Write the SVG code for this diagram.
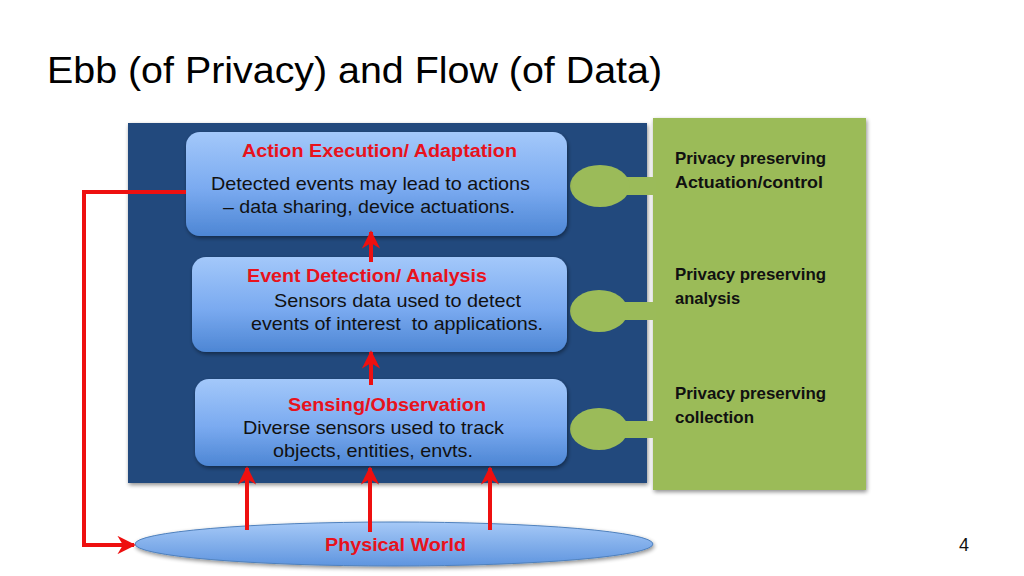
<svg xmlns="http://www.w3.org/2000/svg" width="1024" height="576" viewBox="0 0 1024 576">
<defs>
<style>
.title{font-family:"Liberation Sans",Arial,sans-serif;font-size:37px;fill:#000}
.head{font-family:"Liberation Sans",Arial,sans-serif;font-size:18px;font-weight:bold;fill:#e8121c}
.body{font-family:"Liberation Sans",Arial,sans-serif;font-size:18.5px;fill:#111}
.priv{font-family:"Liberation Sans",Arial,sans-serif;font-size:16.5px;font-weight:bold;fill:#111}
.box{fill:url(#boxg)}
.knob{fill:#9bbb59}
.arr{stroke:#ee1010;stroke-width:4;fill:none;marker-end:url(#ah)}
</style>
<linearGradient id="boxg" x1="0" y1="0" x2="0" y2="1">
<stop offset="0" stop-color="#a3c8fa"/>
<stop offset="0.55" stop-color="#7aaaf0"/>
<stop offset="1" stop-color="#4d86d4"/>
</linearGradient>
<linearGradient id="worldg" x1="0" y1="0" x2="0" y2="1">
<stop offset="0" stop-color="#a6c9f7"/>
<stop offset="1" stop-color="#5f95df"/>
</linearGradient>
<filter id="sh" x="-10%" y="-10%" width="120%" height="130%">
<feGaussianBlur in="SourceAlpha" stdDeviation="2"/>
<feOffset dx="1" dy="2" result="o"/>
<feComponentTransfer><feFuncA type="linear" slope="0.45"/></feComponentTransfer>
<feMerge><feMergeNode/><feMergeNode in="SourceGraphic"/></feMerge>
</filter>
<marker id="ah" viewBox="0 0 10 10" refX="9" refY="5" markerWidth="4.6" markerHeight="4.6" orient="auto" markerUnits="strokeWidth">
<path d="M0,0 L10,5 L0,10 L3,5 z" fill="#ee1010"/>
</marker>
</defs>
<rect width="1024" height="576" fill="#fff"/>
<text class="title" x="47" y="83" textLength="615" lengthAdjust="spacingAndGlyphs">Ebb (of Privacy) and Flow (of Data)</text>

<g id="stack-panel">
<rect x="128" y="123" width="519" height="360" fill="#20497d" filter="url(#sh)"/>
</g>
<g id="privacy-panel">
<rect x="653" y="118" width="213" height="372" fill="#9bbb59" filter="url(#sh)"/>
<rect x="620" y="177" width="36" height="18" class="knob"/>
<ellipse cx="600" cy="186" rx="30" ry="21" class="knob"/>
<rect x="620" y="302" width="36" height="18" class="knob"/>
<ellipse cx="599" cy="311" rx="29" ry="21" class="knob"/>
<rect x="620" y="421" width="36" height="17" class="knob"/>
<ellipse cx="599" cy="429" rx="29" ry="21" class="knob"/>
<text class="priv" x="675" y="164" textLength="151" lengthAdjust="spacingAndGlyphs">Privacy preserving</text>
<text class="priv" x="675" y="188" textLength="148" lengthAdjust="spacingAndGlyphs">Actuation/control</text>
<text class="priv" x="675" y="280" textLength="151" lengthAdjust="spacingAndGlyphs">Privacy preserving</text>
<text class="priv" x="675" y="304">analysis</text>
<text class="priv" x="675" y="399" textLength="151" lengthAdjust="spacingAndGlyphs">Privacy preserving</text>
<text class="priv" x="675" y="423" textLength="79" lengthAdjust="spacingAndGlyphs">collection</text>
</g>

<g id="action-execution">
<rect x="186" y="132" width="381" height="104" rx="14" class="box" filter="url(#sh)"/>
<text class="head" x="242" y="157" textLength="275" lengthAdjust="spacingAndGlyphs">Action Execution/ Adaptation</text>
<text class="body" x="211" y="190" textLength="319" lengthAdjust="spacingAndGlyphs">Detected events may lead to actions</text>
<text class="body" x="223" y="213" textLength="292" lengthAdjust="spacingAndGlyphs">– data sharing, device actuations.</text>
</g>
<g id="event-detection">
<rect x="192" y="257" width="375" height="95" rx="14" class="box" filter="url(#sh)"/>
<text class="head" x="247" y="282" textLength="240" lengthAdjust="spacingAndGlyphs">Event Detection/ Analysis</text>
<text class="body" x="274" y="307" textLength="247" lengthAdjust="spacingAndGlyphs">Sensors data used to detect</text>
<text class="body" x="251" y="330" textLength="292" lengthAdjust="spacingAndGlyphs" xml:space="preserve">events of interest  to applications.</text>
</g>
<g id="sensing">
<rect x="195" y="379" width="372" height="87" rx="14" class="box" filter="url(#sh)"/>
<text class="head" x="288" y="411" textLength="198" lengthAdjust="spacingAndGlyphs">Sensing/Observation</text>
<text class="body" x="243" y="434" textLength="261" lengthAdjust="spacingAndGlyphs">Diverse sensors used to track</text>
<text class="body" x="273" y="457" textLength="200" lengthAdjust="spacingAndGlyphs">objects, entities, envts.</text>
</g>
<g id="physical-world">
<ellipse cx="394" cy="544" rx="259" ry="22" fill="url(#worldg)" stroke="#4f81bd" stroke-width="1" filter="url(#sh)"/>
<text class="head" x="325" y="551" textLength="141" lengthAdjust="spacingAndGlyphs">Physical World</text>
</g>

<g id="connectors">
<line class="arr" x1="371" y1="262" x2="371" y2="232"/>
<line class="arr" x1="371" y1="385" x2="371" y2="352"/>
<line class="arr" x1="247" y1="530" x2="247" y2="468"/>
<line class="arr" x1="370" y1="532" x2="370" y2="468"/>
<line class="arr" x1="490" y1="530" x2="490" y2="468"/>
<polyline class="arr" points="186,192 84,192 84,545 134,545"/>
</g>

<text x="964" y="551" font-family="Liberation Sans,Arial,sans-serif" font-size="18" fill="#111" text-anchor="middle">4</text>
</svg>
